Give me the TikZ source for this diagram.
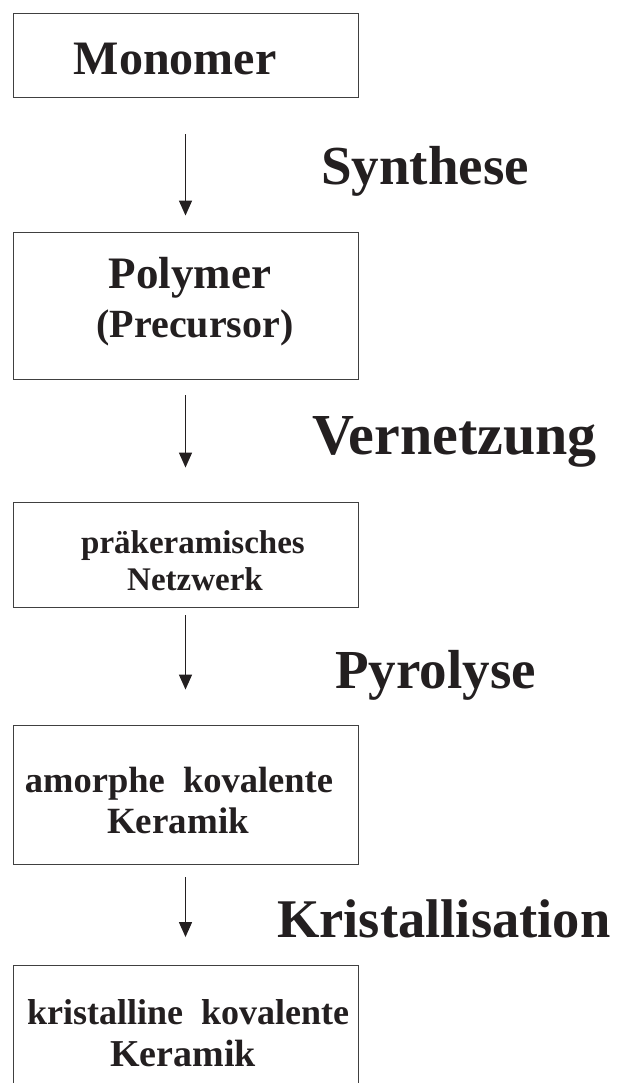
\documentclass[tikz,border=0pt]{standalone}
\usepackage{fontspec}
\setmainfont{Liberation Serif}
\usetikzlibrary{arrows.meta}
\definecolor{ink}{RGB}{35,31,32}
\newcommand{\fsz}[1]{\fontsize{#1}{#1}\selectfont\bfseries}
\begin{document}
\begin{tikzpicture}[x=1pt,y=-1pt,
  stagebox/.style={draw=black!75,line width=0.9pt,rectangle,minimum width=345pt,inner sep=0pt},
  txt/.style={anchor=base,inner sep=0pt,text=ink},
  lbl/.style={anchor=base west,inner sep=0pt,text=ink},
  flow/.style={line width=1.4pt,draw=ink,-{Triangle[width=13pt,length=15pt]}}]
\clip (0,0) rectangle (621,1083);
\fill[white] (0,0) rectangle (621,1083);
% boxes
\node[stagebox,minimum height=84pt] (b1) at (185.5,55) {};
\node[stagebox,minimum height=147pt] (b2) at (185.5,305.5) {};
\node[stagebox,minimum height=105pt] (b3) at (185.5,554.5) {};
\node[stagebox,minimum height=139pt] (b4) at (185.5,794.5) {};
\node[stagebox,minimum height=140pt] (b5) at (185.5,1035.5) {};
% texts
\node[txt,font=\fsz{48}] (t1) at (175,75) {Monomer};
\node[txt,font=\fsz{45}] (t2a) at (190,288) {Polymer};
\node[txt,font=\fsz{40}] (t2b) at (195,337) {(Precursor)};
\node[txt,font=\fsz{33}] (t3a) at (193,553) {präkeramisches};
\node[txt,font=\fsz{33}] (t3b) at (195,590) {Netzwerk};
\node[txt,font=\fsz{36.5}] (t4a) at (179,792) {amorphe\ \ kovalente};
\node[txt,font=\fsz{37}] (t4b) at (178,833) {Keramik};
\node[txt,font=\fsz{36}] (t5a) at (188,1024) {kristalline\ \ kovalente};
\node[txt,font=\fsz{38}] (t5b) at (183,1066) {Keramik};
% labels
\node[lbl,font=\fsz{55}] (l1) at (321,185) {Synthese};
\node[lbl,font=\fsz{58}] (l2) at (312,454) {Vernetzung};
\node[lbl,font=\fsz{55}] (l3) at (335,688) {Pyrolyse};
\node[lbl,font=\fsz{54.5}] (l4) at (277,937) {Kristallisation};
% arrows
\draw[flow,shorten <=37pt,shorten >=16pt] (b1.south) -- (b2.north);
\draw[flow,shorten <=16pt,shorten >=34pt] (b2.south) -- (b3.north);
\draw[flow,shorten <=8pt,shorten >=35pt] (b3.south) -- (b4.north);
\draw[flow,shorten <=13pt,shorten >=28pt] (b4.south) -- (b5.north);
\end{tikzpicture}
\end{document}
